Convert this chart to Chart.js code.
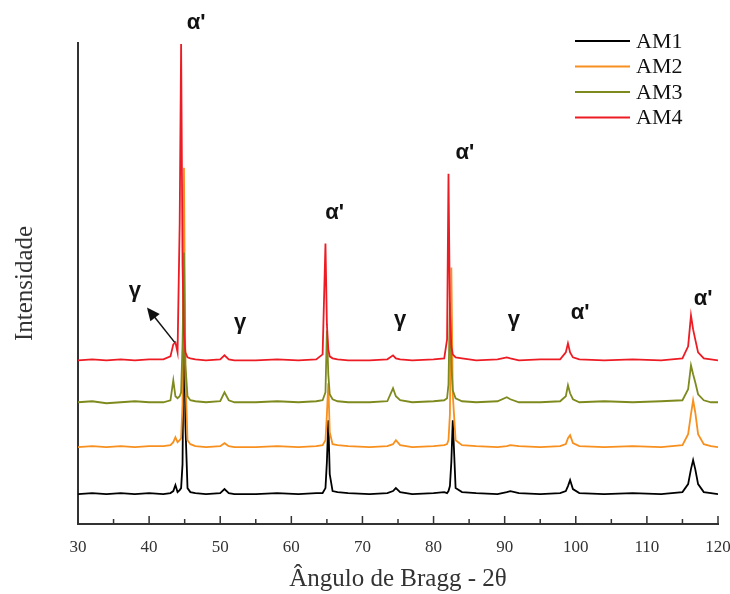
<!DOCTYPE html>
<html lang="pt">
<head>
    <meta charset="UTF-8">
    <title>Difratograma AM1-AM4</title>
    <script src="https://cdn.jsdelivr.net/npm/chart.js"></script>
    <style>
        html, body { margin: 0; padding: 0; background: #fff; }
        #wrap { width: 730px; height: 594px; }
    </style>
</head>
<body>
    <div id="wrap"><canvas id="xrdChart"></canvas></div>
    <script>
        // angulo 2theta (graus), grade comum para as 4 amostras
        const angles = [30, 32, 34, 36, 38, 40, 42, 43.0, 43.4, 43.7, 44.0, 44.3, 44.5, 44.7, 44.9, 45.1, 45.4, 45.8, 46.5, 48,
            50.0, 50.6, 51.2, 52, 55, 58, 61, 63.5, 64.4, 64.8, 65.0, 65.2, 65.4, 65.8, 66.5, 68, 71, 73.5, 74.3, 74.7,
            75.3, 77, 80, 81.5, 81.9, 82.1, 82.3, 82.5, 82.7, 83.1, 84, 86, 89, 90.3, 90.8, 92, 95, 97.8, 98.6, 98.9,
            99.2, 99.6, 100.5, 104, 108, 112, 115, 115.8, 116.2, 116.5, 116.8, 117.2, 118, 119, 120];

        // intensidade (u.a., curvas ja deslocadas)
        const am1 = [30, 31, 30, 31, 30, 31, 30, 31, 33, 39, 32, 34, 36, 60, 221, 100, 36, 32, 31, 30,
            31, 35, 31, 30, 30, 31, 30, 31, 31, 36, 62, 104, 50, 33, 32, 31, 30, 31, 33, 36,
            32, 30, 31, 32, 31, 33, 38, 62, 104, 36, 32, 31, 30, 32, 33, 31, 30, 31, 33, 38,
            44, 35, 31, 30, 31, 30, 32, 40, 55, 64, 55, 40, 32, 31, 30];
        const am2 = [77, 78, 77, 78, 77, 78, 78, 79, 82, 87, 82, 84, 86, 120, 357, 150, 84, 80, 78, 77,
            78, 81, 78, 77, 77, 78, 77, 78, 79, 84, 110, 141, 92, 80, 79, 78, 77, 78, 80, 84,
            79, 77, 78, 79, 80, 84, 110, 257, 130, 84, 79, 78, 77, 78, 79, 78, 77, 78, 80, 86,
            89, 81, 78, 77, 78, 77, 79, 90, 110, 124, 112, 90, 80, 78, 77];
        const am3 = [122, 123, 121, 122, 123, 122, 122, 124, 144, 128, 126, 128, 132, 180, 272, 160, 128, 124, 123, 122,
            123, 132, 124, 122, 122, 123, 122, 123, 124, 132, 194, 150, 130, 125, 123, 122, 122, 123, 136, 128,
            124, 122, 123, 124, 126, 140, 222, 160, 134, 126, 123, 122, 123, 127, 125, 122, 122, 123, 128, 139,
            131, 125, 122, 123, 122, 123, 124, 135, 159, 150, 142, 130, 124, 122, 122];
        const am4 = [164, 165, 164, 165, 164, 165, 165, 168, 180, 182, 172, 301, 481, 260, 190, 172, 167, 166, 165, 164,
            165, 169, 165, 164, 164, 165, 164, 165, 170, 281, 200, 175, 168, 166, 165, 164, 164, 165, 169, 166,
            165, 164, 165, 166, 185, 351, 210, 178, 170, 167, 166, 164, 165, 167, 166, 164, 165, 165, 172, 181,
            172, 167, 165, 164, 165, 164, 166, 178, 209, 195, 185, 172, 166, 165, 164];

        const sampleNames = ['AM1', 'AM2', 'AM3', 'AM4'];
        const sampleColors = ['#000000', '#f7901e', '#7f8a1e', '#ed1c24'];

        // rotulos das fases (posicao em 2theta / intensidade)
        const phaseText = ["\u03B1'", "\u03B1'", "\u03B1'", "\u03B1'", "\u03B1'", '\u03B3', '\u03B3', '\u03B3', '\u03B3'];
        const phaseAngle = [46.6, 66.1, 84.4, 100.6, 117.9, 38.0, 52.8, 75.3, 91.3];
        const phaseLevel = [502, 312, 372, 212, 226, 234, 201, 204, 204];
        const arrowFrom = [43.6, 182];
        const arrowTo = [39.7, 217];

        const ctx = document.getElementById('xrdChart').getContext('2d');

        const axisTicks = {
            id: 'axisTicks',
            afterDraw(chart) {
                const c = chart.ctx;
                const xs = chart.scales.x;
                c.save();
                c.strokeStyle = '#333';
                c.lineWidth = 1.5;
                xs.ticks.forEach(t => {
                    const px = xs.getPixelForValue(t.value);
                    const len = t.value % 10 === 0 ? 8 : 5;
                    c.beginPath();
                    c.moveTo(px, xs.top);
                    c.lineTo(px, xs.top - len);
                    c.stroke();
                });
                c.restore();
            }
        };

        const phaseLabels = {
            id: 'phaseLabels',
            afterDraw(chart) {
                const c = chart.ctx;
                const xs = chart.scales.x, ys = chart.scales.y;
                c.save();
                c.fillStyle = '#111';
                c.font = 'bold 22px "Liberation Sans", Arial, sans-serif';
                c.textAlign = 'center';
                c.textBaseline = 'middle';
                phaseText.forEach((t, i) => {
                    c.fillText(t, xs.getPixelForValue(phaseAngle[i]), ys.getPixelForValue(phaseLevel[i]));
                });
                // seta do gamma
                const x0 = xs.getPixelForValue(arrowFrom[0]), y0 = ys.getPixelForValue(arrowFrom[1]);
                const x1 = xs.getPixelForValue(arrowTo[0]), y1 = ys.getPixelForValue(arrowTo[1]);
                const ang = Math.atan2(y1 - y0, x1 - x0);
                c.strokeStyle = '#111';
                c.lineWidth = 1.5;
                c.beginPath();
                c.moveTo(x0, y0);
                c.lineTo(x1 - 8 * Math.cos(ang), y1 - 8 * Math.sin(ang));
                c.stroke();
                c.beginPath();
                c.moveTo(x1, y1);
                c.lineTo(x1 - 13 * Math.cos(ang) + 6 * Math.sin(ang), y1 - 13 * Math.sin(ang) - 6 * Math.cos(ang));
                c.lineTo(x1 - 13 * Math.cos(ang) - 6 * Math.sin(ang), y1 - 13 * Math.sin(ang) + 6 * Math.cos(ang));
                c.closePath();
                c.fill();

                // legenda
                c.font = '22px "Liberation Serif", "Times New Roman", serif';
                c.textAlign = 'left';
                sampleNames.forEach((n, i) => {
                    const y = 41 + i * 25.5;
                    c.strokeStyle = sampleColors[i];
                    c.lineWidth = 2;
                    c.beginPath();
                    c.moveTo(575, y);
                    c.lineTo(630, y);
                    c.stroke();
                    c.fillStyle = '#111';
                    c.fillText(n, 636, y + 1);
                });
                c.restore();
            }
        };

        const series = [am1, am2, am3, am4];

        new Chart(ctx, {
            type: 'line',
            data: {
                datasets: series.map((s, k) => ({
                    label: sampleNames[k],
                    data: angles.map((a, i) => ({ x: a, y: s[i] })),
                    borderColor: sampleColors[k],
                    borderWidth: 1.8,
                    pointRadius: 0,
                    tension: 0,
                    order: 4 - k
                }))
            },
            options: {
                responsive: true,
                maintainAspectRatio: false,
                animation: false,
                layout: { padding: { top: 43, right: 0, left: 0, bottom: 0 } },
                plugins: {
                    legend: { display: false },
                    tooltip: { enabled: false }
                },
                scales: {
                    x: {
                        type: 'linear',
                        min: 30,
                        max: 120,
                        grid: { display: false },
                        border: { color: '#333', width: 2 },
                        ticks: {
                            stepSize: 5,
                            autoSkip: false,
                            maxRotation: 0,
                            padding: 5,
                            color: '#333',
                            font: { family: '"Liberation Serif", "Times New Roman", serif', size: 17 },
                            callback: v => (v % 10 === 0 ? v : '')
                        },
                        title: {
                            display: true,
                            text: 'Ângulo de Bragg - 2θ',
                            color: '#333',
                            font: { family: '"Liberation Serif", "Times New Roman", serif', size: 25 },
                            padding: { top: 4, bottom: 0 }
                        },
                        afterFit: s => {
                            s.height = 70;
                            s.paddingLeft = 0;
                            s.paddingRight = 12;
                        }
                    },
                    y: {
                        min: 0,
                        max: 482,
                        grid: { display: false },
                        border: { color: '#333', width: 2 },
                        ticks: { display: false },
                        title: {
                            display: true,
                            text: 'Intensidade',
                            color: '#333',
                            font: { family: '"Liberation Serif", "Times New Roman", serif', size: 25 },
                            padding: { top: 10, bottom: 0 }
                        },
                        afterFit: s => { s.width = 78; }
                    }
                }
            },
            plugins: [axisTicks, phaseLabels]
        });
    </script>
</body>
</html>
